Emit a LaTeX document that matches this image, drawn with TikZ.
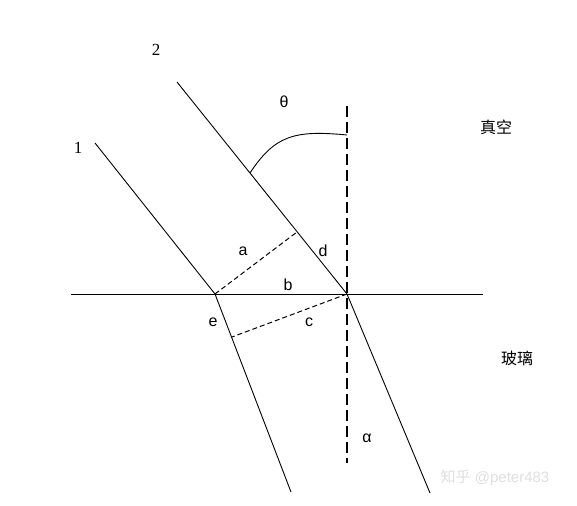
\documentclass[tikz,border=0pt]{standalone}
\usepackage{fontspec}
\setmainfont{Liberation Serif}
\setsansfont{Liberation Sans}
\newfontfamily\cjk{Noto Sans CJK SC}

\begin{document}
\begin{tikzpicture}[x=1pt,y=-1pt,
  ray/.style={black,line width=0.9pt},
  normal/.style={black,line width=1.1pt,dash pattern=on 11pt off 5pt},
  aux/.style={black,line width=1pt,dash pattern=on 5pt off 3pt},
  lbl/.style={font=\sffamily\fontsize{16}{16}\selectfont},
  num/.style={font=\fontsize{17}{17}\selectfont},
  zh/.style={font=\cjk\fontsize{16}{16}\selectfont}]
  \useasboundingbox (0,0) rectangle (577,505);

  % points
  \coordinate (s1) at (71,294);   \coordinate (s2) at (483,294);
  \coordinate (i1) at (95,143);   \coordinate (e) at (215,294);   \coordinate (r1) at (291,492);
  \coordinate (i2) at (177,82);   \coordinate (o) at (347,294);   \coordinate (r2) at (430,493);
  \coordinate (n1) at (347,106);  \coordinate (n2) at (347,463);
  \coordinate (pa) at (297,232);  \coordinate (pc) at (232,337);
  \coordinate (t1) at (250,173);  \coordinate (t2) at (347,135);

  % interface and normal
  \draw[ray] (s1)--(s2);
  \draw[normal] (n1)--(n2);

  % rays
  \draw[ray] (i1)--(e)--(r1);
  \draw[ray] (i2)--(o)--(r2);

  % wavefronts
  \draw[aux] (e)--(pa);
  \draw[aux] (o)--(pc);

  % angle mark
  \draw[ray] (t1) .. controls (275,135) and (295,130) .. (t2);

  \node (l2) at (156,50) [num] {2};
  \node (l1) at (78,148) [num] {1};
  \node (th) at (284,102) [lbl] {θ};
  \node (la) at (243,251) [lbl] {a};
  \node (ld) at (323,251) [lbl] {d};
  \node (lb) at (288,285) [lbl] {b};
  \node (le) at (213,322) [lbl] {e};
  \node (lc) at (309,322) [lbl] {c};
  \node (al) at (367,438) [lbl] {α};
  \node (vac) at (496,127) [zh] {真空};
  \node (gl) at (517,358) [zh] {玻璃};
  \node (wm) at (495,478) [font=\sffamily\fontsize{15}{15}\selectfont,text=gray!25] {{\cjk 知乎} @peter483};
\end{tikzpicture}
\end{document}
